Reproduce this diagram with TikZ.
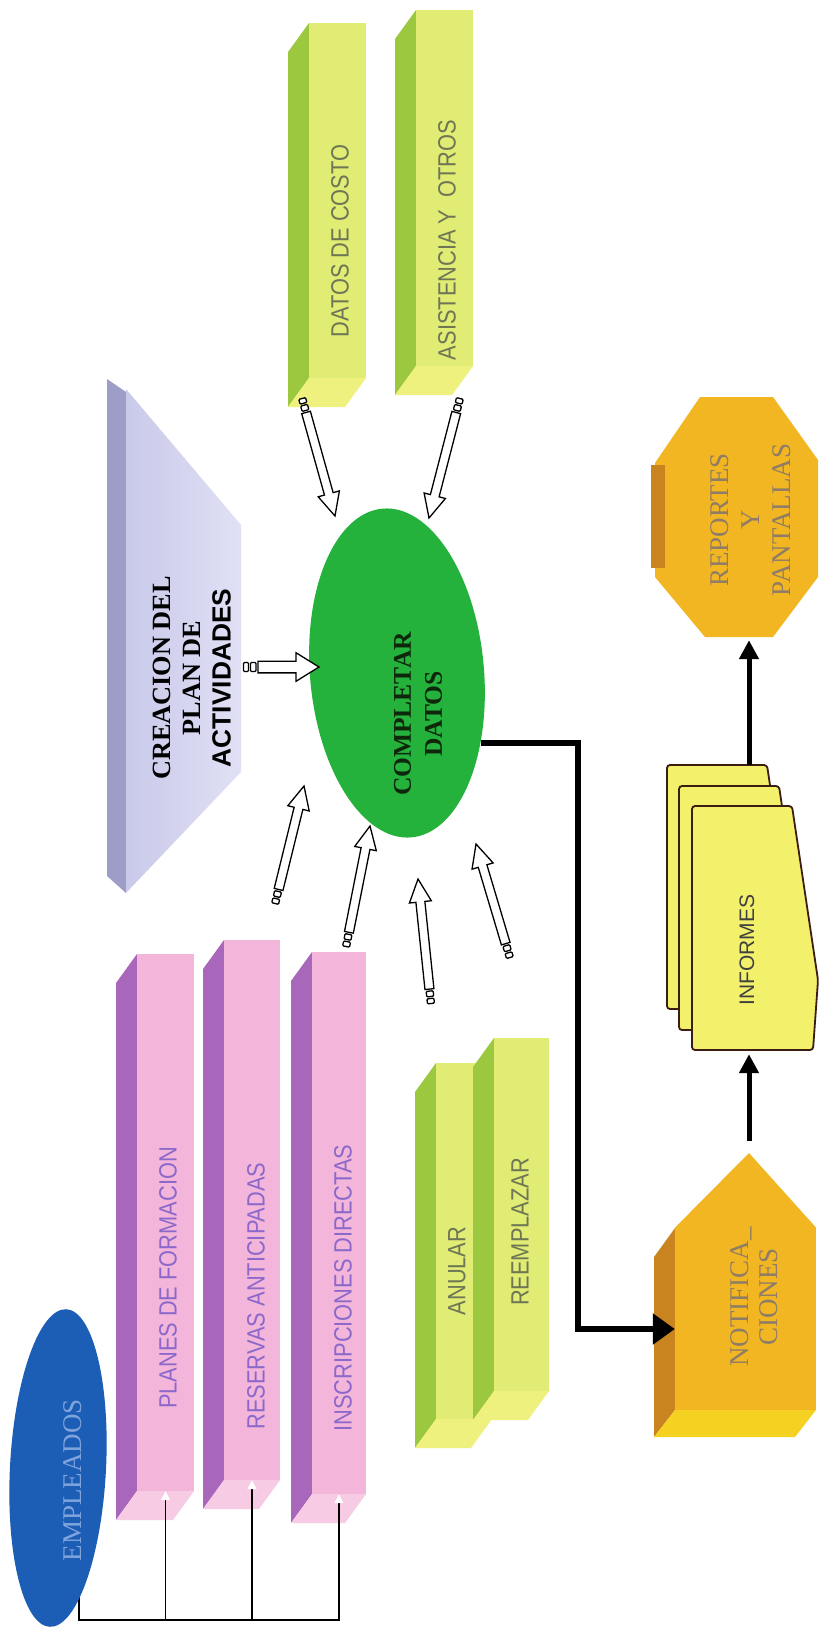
\documentclass[tikz,border=0pt]{standalone}
\usepackage{fontspec}
\setmainfont{Liberation Serif}
\setsansfont{Liberation Sans}
\usetikzlibrary{shapes.geometric,arrows.meta,calc,fit}

\definecolor{pinkface}{HTML}{F3B6DA}
\definecolor{pinkside}{HTML}{A967BC}
\definecolor{pinkcap}{HTML}{F8CBE4}
\definecolor{pinktext}{HTML}{8B68CA}
\definecolor{limeface}{HTML}{E1EC74}
\definecolor{limeside}{HTML}{9BC83E}
\definecolor{limecap}{HTML}{EEF17E}
\definecolor{limetext}{HTML}{6E7655}
\definecolor{lavface}{HTML}{C9C9EA}
\definecolor{lavlight}{HTML}{E0E0F5}
\definecolor{lavside}{HTML}{9D9DC8}
\definecolor{leaf}{HTML}{24B23C}
\definecolor{leaftext}{HTML}{0E260A}
\definecolor{royal}{HTML}{1C5DB5}
\definecolor{royaltext}{HTML}{7FA4DC}
\definecolor{amber}{HTML}{F2B622}
\definecolor{amberside}{HTML}{C98420}
\definecolor{ambercap}{HTML}{F5D222}
\definecolor{ambertext}{HTML}{8E7C66}
\definecolor{paper}{HTML}{F3F16C}
\definecolor{paperline}{HTML}{3B1D12}

% 3D bar: front face (named node) with a side face to the left and an end face below
% #1 name, #2 left x, #3 right x, #4 top y, #5 bottom y, #6 front, #7 side, #8 end colour
\newcommand\prism[8]{%
  \fill[#7] (#2,#4) -- (#2-21,#4+29) -- (#2-21,#5+29) -- (#2,#5) -- cycle;
  \fill[#8] (#2,#5) -- (#3,#5) -- (#3-21,#5+29) -- (#2-21,#5+29) -- cycle;
  \node[fit={(#2,#4) (#3,#5)}, inner sep=0pt, fill=#6] (#1) {};
}

% hollow block arrow with a notched tail, from #2 to #3; #1 widens it
\newcommand\blockarrow[3][1]{%
  \path let \p1=(#2), \p2=(#3) in
    \pgfextra{%
      \pgfmathsetmacro\baang{atan2(\y2-\y1,\x2-\x1)}%
      \pgfmathsetmacro\balen{veclen(\x2-\x1,\y2-\y1)}%
      \xdef\baang{\baang}\xdef\balen{\balen}%
      \xdef\bax{\x1}\xdef\bay{\y1}};
  \begin{scope}[shift={(\bax,\bay)}, rotate=\baang, x=1pt, y=1pt, yscale=#1]
    \draw[hollow] (15,-4.5) -- (\balen-23,-4.5) -- (\balen-23,-11) -- (\balen,0)
      -- (\balen-23,11) -- (\balen-23,4.5) -- (15,4.5) -- cycle;
    \draw[hollow, rounded corners=1pt] (0.5,-3.5) rectangle (5.5,3.5);
    \draw[hollow, rounded corners=1pt] (7.5,-3.5) rectangle (13,3.5);
  \end{scope}}

\begin{document}
\begin{tikzpicture}[x=1pt, y=-1pt,
  hollow/.style={draw=black, fill=white, line width=1.3pt, line join=miter},
  barlabel/.style={font=\sffamily\fontsize{25}{25}\selectfont, rotate=90, xscale=0.873, inner sep=0pt},
  seriflabel/.style={rotate=90, align=center, inner sep=0pt},
  wire/.style={draw=black, line width=1.6pt, -{Triangle[length=9pt, width=9pt, color=white]}},
  heavy/.style={draw=black, line width=6pt, -{Triangle[length=22pt, width=30pt]}},
  medium/.style={draw=black, line width=5pt, -{Triangle[length=19pt, width=19pt]}},
  sheet/.style={draw=paperline, fill=paper, line width=1.8pt, rounded corners=3pt}]

\useasboundingbox (0,0) rectangle (820,1639);
\fill[white] (0,0) rectangle (820,1639);

% ---- data sources at the top
\prism{costo}{309}{366}{23}{378}{limeface}{limeside}{limecap}
\prism{asist}{416}{473}{10}{366}{limeface}{limeside}{limecap}
\node[barlabel, text=limetext] (costotext) at (340,241) {DATOS DE COSTO};
\node[barlabel, text=limetext] (asisttext) at (447,240) {ASISTENCIA Y~~OTROS};

% ---- activity plan plate
\fill[lavside] (107,379) -- (126,392) -- (126,893) -- (107,876) -- cycle;
\shade[left color=lavface, right color=lavlight] (126,389) -- (241,525) -- (241,772) -- (126,893) -- cycle;
\node[fit={(126,389) (241,893)}, inner sep=0pt] (plan) {};
\node[seriflabel, font=\bfseries\fontsize{26.3}{30}\selectfont] (plantext) at (192,678)
  {CREACION DEL\\PLAN DE\\{\sffamily ACTIVIDADES}};

% ---- central process
\node[ellipse, fill=leaf, minimum width=174, minimum height=330, inner sep=0pt, rotate=5] (cd) at (397,673) {};
\node[seriflabel, font=\bfseries\fontsize{25.5}{31}\selectfont, text=leaftext] (cdtext) at (418,714)
  {COMPLETAR\\DATOS};

% ---- enrolment sources
\prism{planes}{137}{194}{954}{1491}{pinkface}{pinkside}{pinkcap}
\prism{reservas}{224}{280}{940}{1480}{pinkface}{pinkside}{pinkcap}
\prism{inscr}{312}{366}{952}{1494}{pinkface}{pinkside}{pinkcap}
\node[barlabel, text=pinktext] (planestext) at (168,1278) {PLANES DE FORMACION};
\node[barlabel, text=pinktext] (reservastext) at (256,1296) {RESERVAS ANTICIPADAS};
\node[barlabel, text=pinktext] (inscrtext) at (343,1288) {INSCRIPCIONES DIRECTAS};

% ---- change actions
\prism{anular}{436}{492}{1063}{1419}{limeface}{limeside}{limecap}
\prism{reemp}{494}{549}{1038}{1391}{limeface}{limeside}{limecap}
\node[barlabel, text=limetext] (anulartext) at (457,1271) {ANULAR};
\node[barlabel, text=limetext] (reemptext) at (520,1232) {REEMPLAZAR};

% ---- employees and their links to the enrolment sources
\coordinate (e0) at (79,1590);
\coordinate (busy) at (0,1620);
\draw[wire] (e0) |- (inscr.south |- busy) -- (inscr.south);
\draw[wire] (planes.south |- busy) -- (planes.south);
\draw[wire] (reservas.south |- busy) -- (reservas.south);
\node[ellipse, fill=royal, minimum width=96, minimum height=318, inner sep=0pt, rotate=-3] (emp) at (58,1468) {};
\node[seriflabel, font=\fontsize{27}{27}\selectfont, text=royaltext] (emptext) at (73,1480) {EMPLEADOS};

% ---- inputs to the central process
\coordinate (a1s) at (302,398);  \coordinate (a1e) at (335,516);
\coordinate (a2s) at (460,398);  \coordinate (a2e) at (429,518);
\coordinate (a3s) at (243,667);  \coordinate (a3e) at (319,667);
\coordinate (a4s) at (275,904);  \coordinate (a4e) at (304,786);
\coordinate (a5s) at (346,947);  \coordinate (a5e) at (370,826);
\coordinate (a6s) at (431,1004); \coordinate (a6e) at (418,879);
\coordinate (a7s) at (510,958);  \coordinate (a7e) at (476,844);
\blockarrow{a1s}{a1e}
\blockarrow{a2s}{a2e}
\blockarrow[1.3]{a3s}{a3e}
\blockarrow{a4s}{a4e}
\blockarrow{a5s}{a5e}
\blockarrow{a6s}{a6e}
\blockarrow{a7s}{a7e}

% ---- notifications
\fill[amberside] (675,1228) -- (654,1257) -- (654,1437) -- (675,1410) -- cycle;
\fill[ambercap] (675,1410) -- (816,1410) -- (795,1437) -- (654,1437) -- cycle;
\node[fit={(675,1228) (816,1410)}, inner sep=0pt, fill=amber] (notif) {};
\coordinate (notifapex) at (749,1153);
\fill[amber] (notif.north west) -- (notifapex) -- (notif.north east) -- cycle;
\node[seriflabel, font=\fontsize{27}{29}\selectfont, text=ambertext] (notiftext) at (754,1297)
  {NOTIFICA\_\\CIONES};

% ---- reports (stack of sheets)
\foreach \sx/\sy in {667/765, 679/786, 692/806}
  \draw[sheet, shift={(\sx,\sy)}] (0,0) -- (100,0) -- (126,174) -- (121,244) -- (0,244) -- cycle;
\node[fit={(692,806) (818,1050)}, inner sep=0pt] (inf) {};
\node[rotate=90, inner sep=0pt, font=\sffamily\fontsize{21}{21}\selectfont, text=black!75] (inftext) at (747,950) {INFORMES};

% ---- reports and screens
\fill[amber] (700,397) -- (773,397) -- (818,460) -- (818,577) -- (773,637) -- (705,637)
  -- (655,577) -- (655,463) -- cycle;
\fill[amberside] (651,465) rectangle (665,568);
\node[fit={(655,397) (818,637)}, inner sep=0pt] (rep) {};
\node[seriflabel, font=\fontsize{27}{31}\selectfont, text=ambertext] (reptext) at (751,520)
  {REPORTES\\Y\\PANTALLAS};

% ---- output flow
\coordinate (bendx) at (578,0);
\coordinate (col) at (749,0);
\coordinate (notifin) at ($(notif.west)+(0,10)$);
\draw[heavy] (cd.-45) -- (cd.-45 -| bendx) -- (bendx |- notifin) -- (notifin);
\draw[medium] ($(notifapex)+(0,-12)$) -- ($(col |- inf.south)+(0,4)$);
\coordinate (inftop) at (749,765);
\draw[medium] (inftop) -- ($(col |- rep.south)+(0,3)$);

\end{tikzpicture}
\end{document}
